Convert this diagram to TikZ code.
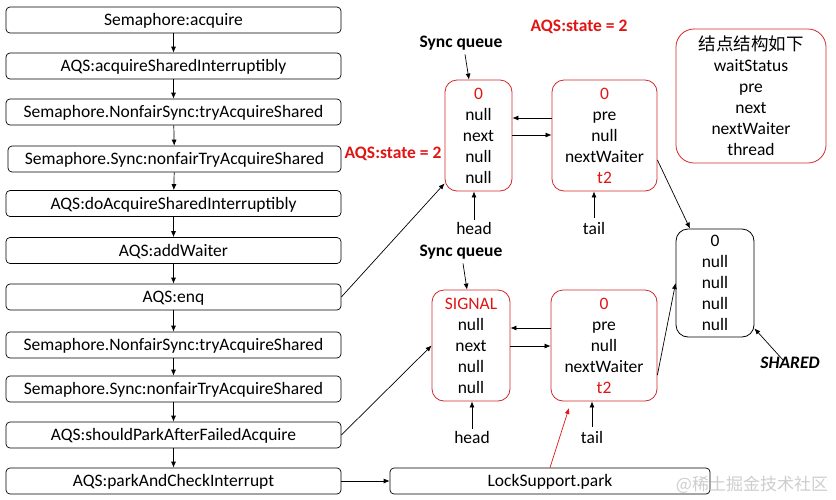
\documentclass[tikz,border=0pt]{standalone}
\usepackage{fontspec}
\setmainfont{Carlito}
\newfontfamily\cjk{Noto Sans CJK SC}
\usetikzlibrary{arrows.meta}
\definecolor{qred}{RGB}{225,20,20}
\definecolor{bred}{RGB}{210,40,40}
\definecolor{wmgray}{RGB}{205,205,205}
\begin{document}
\begin{tikzpicture}[x=1pt,y=-1pt,
  every node/.style={font=\fontsize{17.5}{21}\selectfont, inner sep=0pt},
  lbox/.style={draw, rounded corners=4pt, minimum width=335pt, minimum height=26pt, line width=0.7pt, text height=11.3pt, text depth=0pt},
  qnode/.style={draw=bred, rounded corners=12pt, align=center, line width=0.8pt},
  bnode/.style={draw, rounded corners=12pt, align=center, line width=0.8pt},
  arr/.style={-{Latex[length=6pt,width=5pt]}, line width=0.7pt},
  redarr/.style={-{Latex[length=6pt,width=5pt]}, line width=0.7pt, draw=qred},
  bl/.style={font=\fontsize{17.5}{21}\selectfont\bfseries},
  rl/.style={font=\fontsize{17.5}{21}\selectfont\bfseries, text=qred}
]
\useasboundingbox (0,0) rectangle (836,499);

% left column
\node[lbox] (b1) at (173.5,20) {Semaphore:acquire};
\node[lbox] (b2) at (173.5,66) {AQS:acquireSharedInterruptibly};
\node[lbox] (b3) at (173.5,112) {Semaphore.NonfairSync:tryAcquireShared};
\node[lbox, minimum width=333pt] (b4) at (174.5,159) {Semaphore.Sync:nonfairTryAcquireShared};
\node[lbox] (b5) at (173.5,203.5) {AQS:doAcquireSharedInterruptibly};
\node[lbox] (b6) at (173.5,250.5) {AQS:addWaiter};
\node[lbox] (b7) at (173.5,297) {AQS:enq};
\node[lbox] (b8) at (173.5,345) {Semaphore.NonfairSync:tryAcquireShared};
\node[lbox] (b9) at (173.5,389) {Semaphore.Sync:nonfairTryAcquireShared};
\node[lbox] (b10) at (173.5,435) {AQS:shouldParkAfterFailedAcquire};
\node[lbox] (b11) at (173.5,481) {AQS:parkAndCheckInterrupt};
\foreach \a/\b in {b1/b2,b2/b3,b3/b4,b4/b5,b5/b6,b6/b7,b7/b8,b8/b9,b9/b10,b10/b11}
  \draw[arr] (\a) -- (\b);

\node[lbox, minimum width=320pt] (lock) at (550,481) {LockSupport.park};
\draw[arr] (b11) -- (lock);

% top queue
\node[qnode, minimum width=67pt, minimum height=111pt] (A) at (478.5,135.5)
  {\textcolor{qred}{0}\\null\\next\\null\\null};
\node[qnode, minimum width=105pt, minimum height=111pt] (B) at (604.5,135.5)
  {\textcolor{qred}{0}\\pre\\null\\nextWaiter\\\textcolor{qred}{t2}};
\draw[arr] ([yshift=17.5pt]B.west) -- ([yshift=17.5pt]A.east);
\draw[arr] ([yshift=0.5pt]A.east) -- ([yshift=0.5pt]B.west);
\node[bl] (sq1) at (461,43) {Sync queue};
\node[rl] (st1) at (579,27) {AQS:state = 2};
\node[rl] (st2) at (393,154) {AQS:state = 2};
\draw[arr] ([xshift=4pt,yshift=-4pt]sq1.south) -- ([xshift=-9.5pt]A.north);
\node (h1) at (474,228) {head};
\node (t1) at (594,228) {tail};
\draw[arr] ([yshift=2pt]h1.north) -- (h1.north |- A.south);
\draw[arr] ([yshift=4pt]t1.north) -- (t1.north |- B.south);
\draw[arr] (b7.east) -- ([yshift=8pt]A.south west);

% bottom queue
\node[qnode, minimum width=78pt, minimum height=111pt] (C) at (471,345.5)
  {\textcolor{qred}{SIGNAL}\\null\\next\\null\\null};
\node[qnode, minimum width=106pt, minimum height=111pt] (D) at (604,345.5)
  {\textcolor{qred}{0}\\pre\\null\\nextWaiter\\\textcolor{qred}{t2}};
\draw[arr] ([yshift=17.5pt]D.west) -- ([yshift=17.5pt]C.east);
\draw[arr] ([yshift=-0.5pt]C.east) -- ([yshift=-0.5pt]D.west);
\node[bl] (sq2) at (461,252) {Sync queue};
\draw[arr] ([xshift=2pt,yshift=-4pt]sq2.south) -- ([xshift=-4pt]C.north);
\node (h2) at (472,437) {head};
\node (t2) at (592,437) {tail};
\draw[arr] ([yshift=2pt]h2.north) -- (h2.north |- C.south);
\draw[arr] ([yshift=4pt]t2.north) -- (t2.north |- D.south);
\draw[arr] (b10.east) -- (C.west);
\coordinate (rp) at (569,408);
\draw[redarr] (lock.north) -- (rp);

% right side
\node[qnode, rounded corners=18pt, minimum width=150pt, minimum height=134pt] (S1) at (751,96)
  {{\cjk 结点结构如下}\\waitStatus\\pre\\next\\nextWaiter\\thread};
\node[bnode, minimum width=78pt, minimum height=108pt] (S) at (715,283)
  {0\\null\\null\\null\\null};
\draw[arr] ([yshift=-24.5pt]B.east) -- ([xshift=-25pt]S.north);
\draw[arr] ([yshift=-29.5pt]D.east) -- (S.west);
\node[font=\fontsize{17.5}{21}\selectfont\bfseries\itshape] (sh) at (790,363) {SHARED};
\draw[arr] ([xshift=-7pt,yshift=-3pt]sh.north) -- ([yshift=9pt]S.south east);

% watermark
\node[text=wmgray, font=\fontsize{17}{20}\selectfont\cjk] (wm) at (752,485) {@稀土掘金技术社区};
\end{tikzpicture}
\end{document}
